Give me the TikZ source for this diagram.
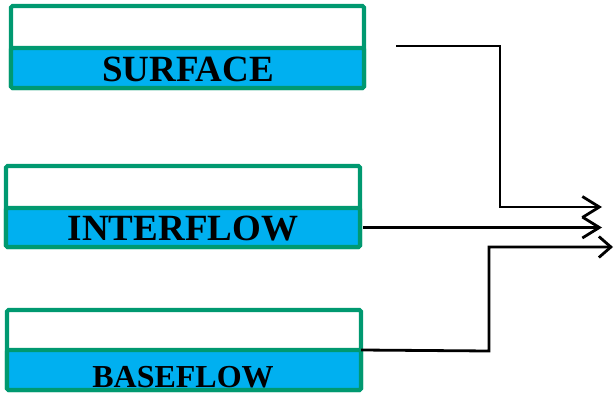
\documentclass[tikz,border=0pt]{standalone}
\usepackage{fontspec}
\setmainfont{Liberation Serif}
\usetikzlibrary{arrows.meta}
\definecolor{boxgreen}{RGB}{0,153,112}
\definecolor{boxblue}{RGB}{0,176,240}
\tikzset{
  outerbox/.style={draw=boxgreen, line width=4.2pt, fill=white, rounded corners=1.5pt,
    inner sep=0pt, outer sep=0pt, anchor=north west},
  bluebox/.style={draw=boxgreen, line width=4.2pt, fill=boxblue, rounded corners=1.5pt,
    inner sep=0pt, outer sep=0pt, anchor=north west},
  lbl/.style={text=black, inner sep=0pt},
  flow/.style={draw=black, line width=2.8pt, line join=miter},
  headA/.style={-{Straight Barb[length=17pt,width=21pt,line width=2.8pt]}},
  headB/.style={-{Straight Barb[length=12pt,width=21pt,line width=2.8pt]}}
}
\begin{document}
\begin{tikzpicture}[x=1pt,y=-1pt]
\useasboundingbox (0,0) rectangle (615,393);
% SURFACE box
\node[outerbox, minimum width=353pt, minimum height=82pt] (surf) at (11,6) {};
\node[bluebox, minimum width=353pt, minimum height=40pt] (surfB) at (11,48) {};
\node[lbl, font=\fontsize{37}{40}\selectfont\bfseries, anchor=base] (surfT) at (188,81.5) {SURFACE};
% INTERFLOW box
\node[outerbox, minimum width=354pt, minimum height=81pt] (inter) at (6,166) {};
\node[bluebox, minimum width=354pt, minimum height=39pt] (interB) at (6,208) {};
\node[lbl, font=\fontsize{37}{40}\selectfont\bfseries, anchor=base] (interT) at (183,240.5) {INTERFLOW};
% BASEFLOW box
\node[outerbox, minimum width=354pt, minimum height=80pt] (base) at (7,310) {};
\node[bluebox, minimum width=354pt, minimum height=40pt] (baseB) at (7,350) {};
\node[lbl, font=\fontsize{32}{36}\selectfont\bfseries, anchor=base] (baseT) at (183,387) {BASEFLOW};
% connectors
\coordinate (s0) at (396,46);
\coordinate (sK) at (500,46);
\coordinate (sEnd) at (602,207);
\coordinate (iEnd) at (602,227.5);
\coordinate (bK) at (489,351);
\coordinate (bEnd) at (613,247);
\draw[flow, headA] (s0) -- (sK) |- (sEnd);
\draw[flow, headA] ([xshift=3pt]interB.east) -- (interB.east -| iEnd);
\draw[flow, headB] (baseB.north east) -- (bK) |- (bEnd);
\end{tikzpicture}
\end{document}
